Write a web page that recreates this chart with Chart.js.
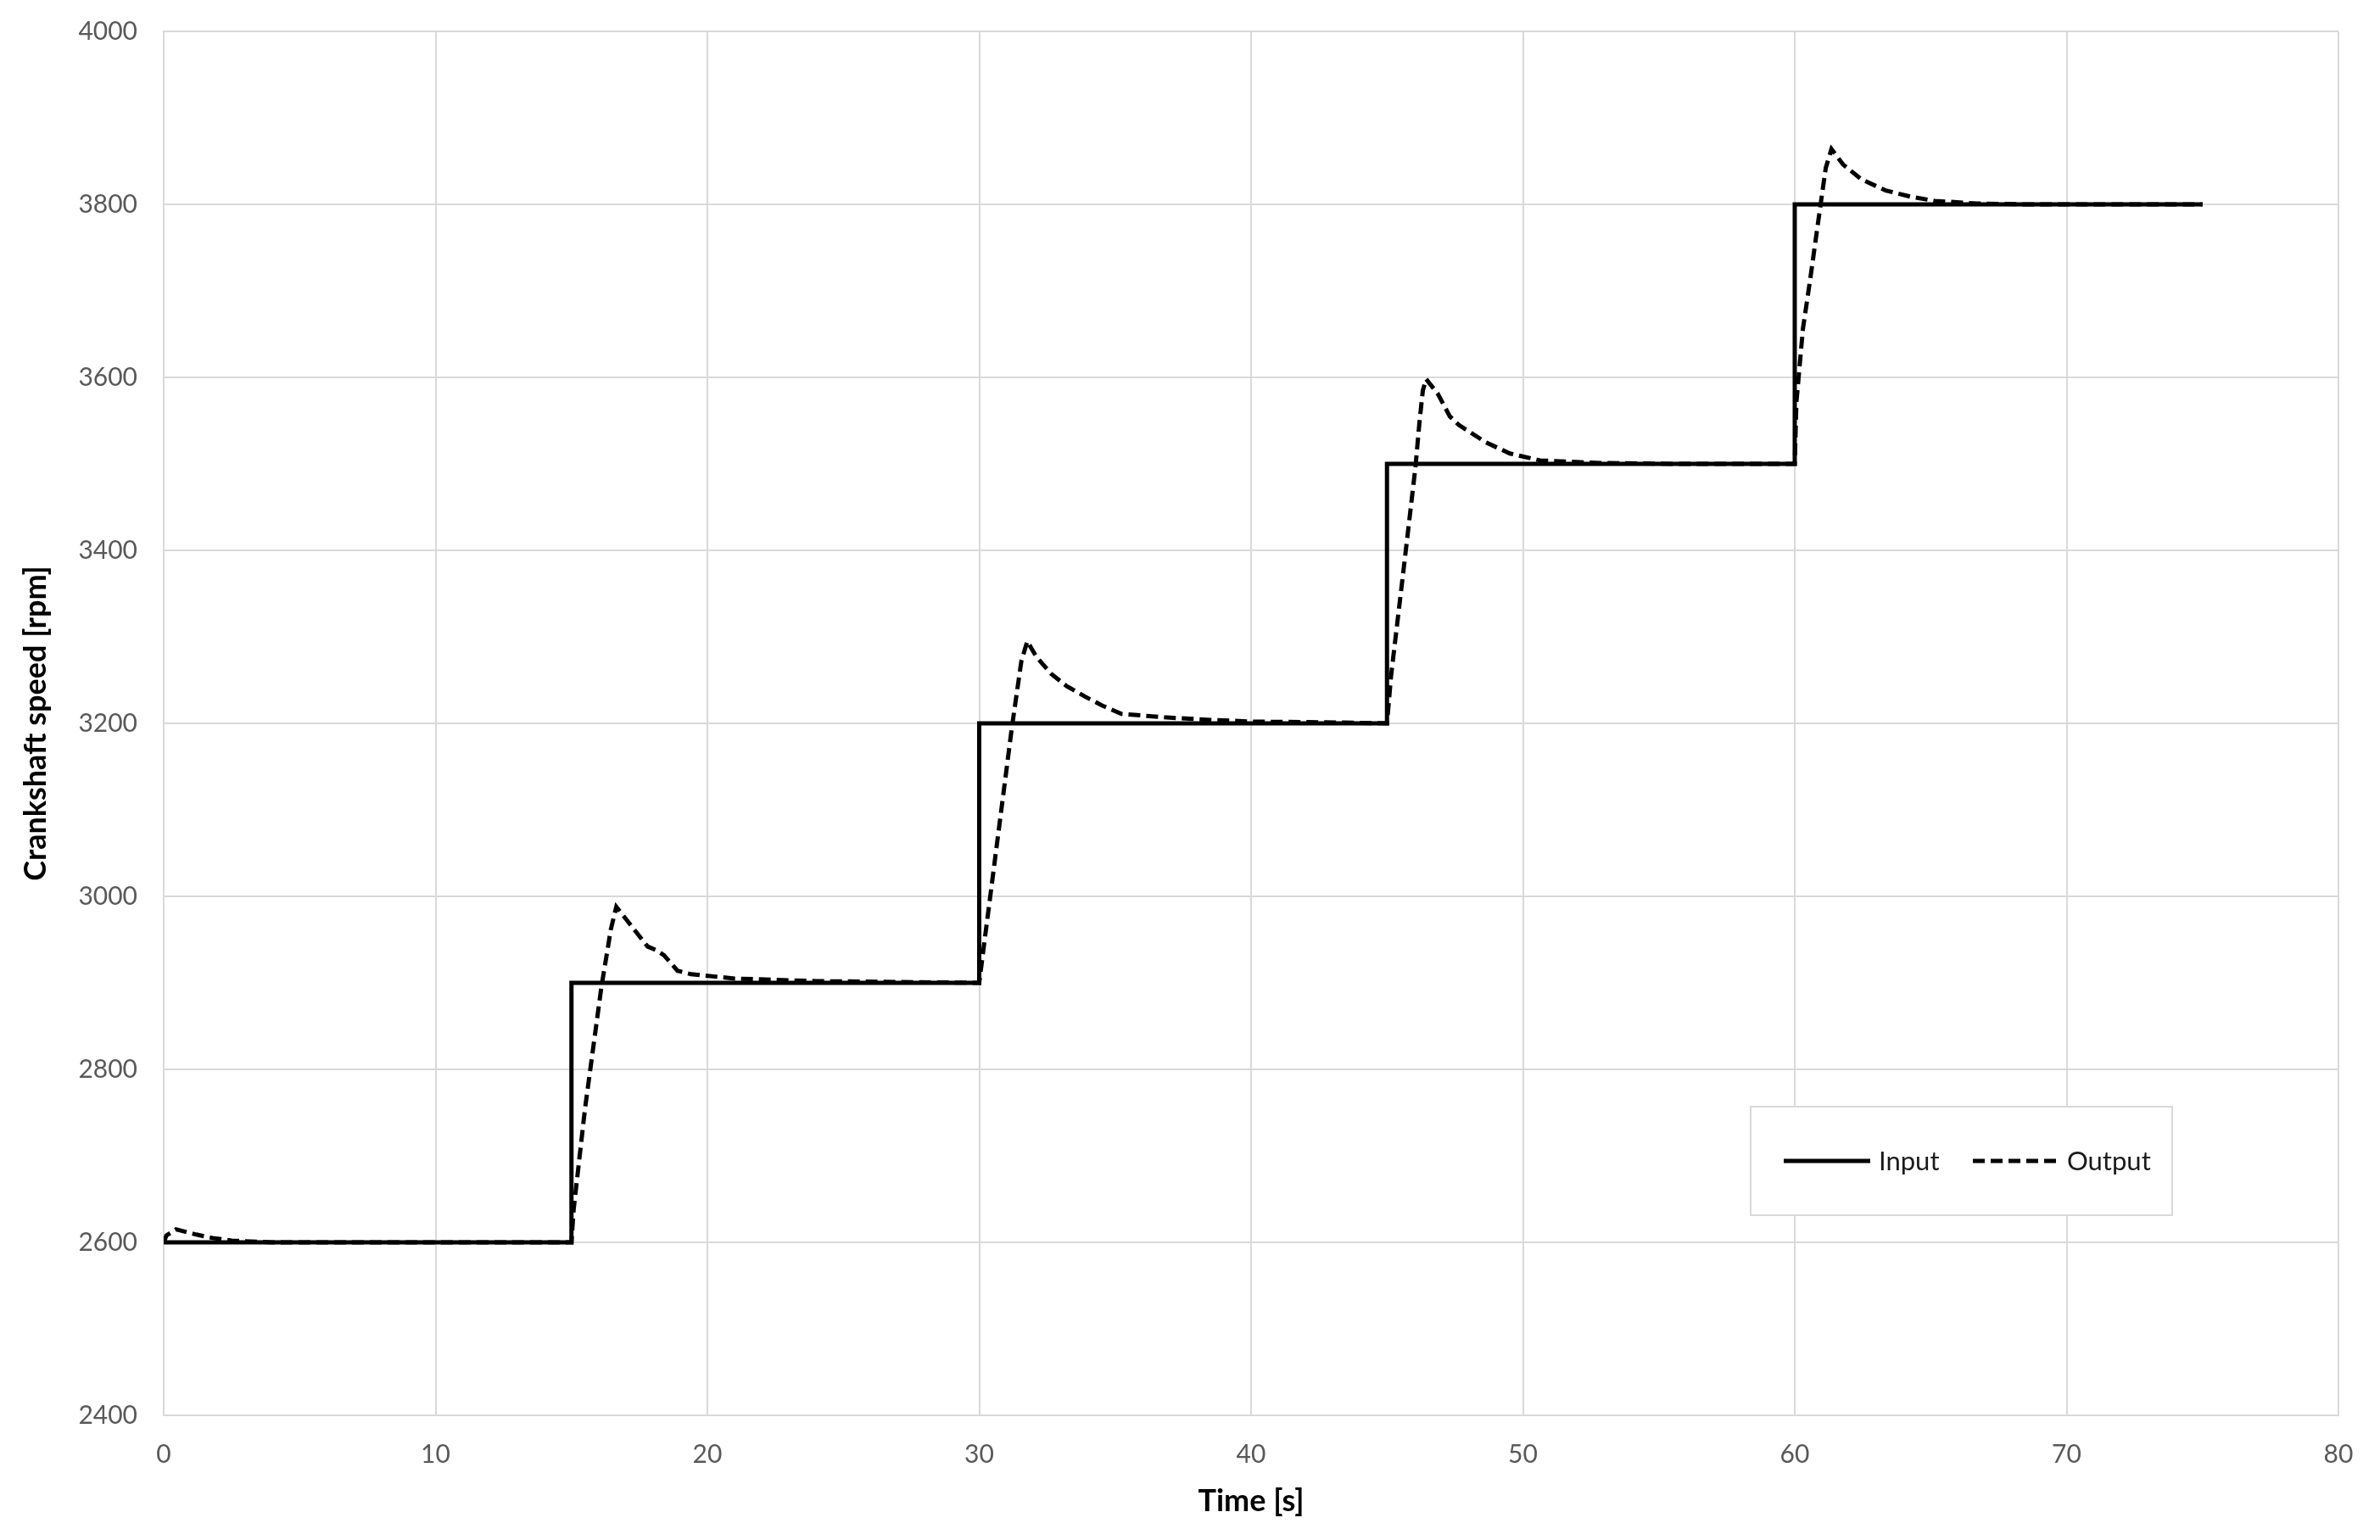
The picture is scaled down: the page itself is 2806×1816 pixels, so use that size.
<!DOCTYPE html>
<html>
<head>
<meta charset="utf-8">
<script src="https://cdn.jsdelivr.net/npm/chart.js@4.4.1/dist/chart.umd.min.js"></script>
<style>
  html, body { margin: 0; padding: 0; background: #ffffff; }
  canvas { display: block; background: #ffffff; }
</style>
</head>
<body>
<canvas id="c" width="2806" height="1816"></canvas>
<script>
// ---- Data ----
const inputTime  = [0, 15, 15, 30, 30, 45, 45, 60, 60, 75];
const inputSpeed = [2600, 2600, 2900, 2900, 3200, 3200, 3500, 3500, 3800, 3800];

const outputTime = [
  0, 0.1, 0.45, 1.2, 1.8, 2.5, 3.2, 4.0, 15.0,
  15.08, 15.5, 16.1, 16.45, 16.65, 17.8, 18.1, 18.4, 18.9, 19.4, 21.0, 24.0, 27.0, 30.0,
  30.12, 31.2, 31.55, 31.77, 32.1, 32.66, 33.22, 33.89, 34.56, 35.23, 36.8, 38.5, 40.1, 43.3, 45.0,
  45.15, 45.6, 46.05, 46.2, 46.32, 46.44, 46.87, 47.31, 47.64, 48.63, 49.52, 50.63, 52.85, 55.4, 60.0,
  60.06, 60.3, 60.58, 60.92, 61.14, 61.35, 61.78, 62.45, 63.35, 64.25, 65.15, 66.7, 68.6, 75.0
];
const outputSpeed = [
  2600, 2608, 2615, 2609, 2605, 2602, 2601, 2600, 2600,
  2638, 2755, 2895, 2962, 2988, 2942, 2938, 2932, 2914, 2910, 2905, 2902, 2901, 2900,
  2930, 3195, 3272, 3295, 3277, 3257, 3243, 3231, 3220, 3211, 3207, 3204, 3202, 3201, 3200,
  3255, 3375, 3497, 3550, 3585, 3598, 3581, 3555, 3545, 3525, 3512, 3504, 3501, 3500, 3500,
  3571, 3656, 3716, 3793, 3842, 3864, 3846, 3829, 3816, 3809, 3804, 3801, 3800, 3800
];

const seriesNames = ['Input', 'Output'];
const xTitle = 'Time [s]';
const yTitle = 'Crankshaft speed [rpm]';
const xMin = 0, xMax = 80, xStep = 10;
const yMin = 2400, yMax = 4000, yStep = 200;

function toPoints(xs, ys) { return xs.map((x, i) => ({ x: x, y: ys[i] })); }

const FONT = 'Lato, "Open Sans", "Liberation Sans", sans-serif';
const GRID = '#d9d9d9';
const TICKC = '#595959';

// Legend drawn inside plot area (like the reference)
const insideLegend = {
  id: 'insideLegend',
  afterDraw(chart) {
    const ctx = chart.ctx;
    const bx = 2064, by = 1305, bw = 497, bh = 128;
    ctx.save();
    ctx.fillStyle = '#ffffff';
    ctx.fillRect(bx, by, bw, bh);
    ctx.strokeStyle = GRID;
    ctx.lineWidth = 2;
    ctx.strokeRect(bx, by, bw, bh);
    const cy = by + bh / 2;
    const items = [
      { x0: 2103, x1: 2205, tx: 2215, ds: chart.data.datasets[0] },
      { x0: 2326, x1: 2428, tx: 2437, ds: chart.data.datasets[1] }
    ];
    items.forEach(it => {
      ctx.beginPath();
      ctx.setLineDash(it.ds.borderDash || []);
      ctx.lineWidth = it.ds.borderWidth;
      ctx.strokeStyle = it.ds.borderColor;
      ctx.lineCap = 'butt';
      ctx.moveTo(it.x0, cy);
      ctx.lineTo(it.x1, cy);
      ctx.stroke();
      ctx.setLineDash([]);
      ctx.fillStyle = '#1a1a1a';
      ctx.font = '31px ' + FONT;
      ctx.textAlign = 'left';
      ctx.textBaseline = 'middle';
      ctx.fillText(it.ds.label, it.tx, cy + 1);
    });
    ctx.restore();
  }
};

new Chart(document.getElementById('c'), {
  type: 'scatter',
  data: {
    datasets: [
      {
        label: seriesNames[0],
        data: toPoints(inputTime, inputSpeed),
        showLine: true,
        borderColor: '#000000',
        backgroundColor: '#000000',
        borderWidth: 5,
        pointRadius: 0,
        tension: 0,
        order: 2
      },
      {
        label: seriesNames[1],
        data: toPoints(outputTime, outputSpeed),
        showLine: true,
        borderColor: '#000000',
        backgroundColor: '#000000',
        borderWidth: 5,
        borderDash: [14, 7],
        pointRadius: 0,
        tension: 0,
        order: 1
      }
    ]
  },
  options: {
    responsive: false,
    animation: false,
    devicePixelRatio: 1,
    layout: { padding: { top: 37, right: 49, left: 0, bottom: 0 } },
    plugins: {
      legend: { display: false },
      tooltip: { enabled: false }
    },
    scales: {
      x: {
        type: 'linear',
        min: xMin, max: xMax,
        afterFit(scale) { scale.height = 147; },
        ticks: {
          stepSize: xStep,
          color: TICKC,
          font: { family: FONT, size: 30 },
          padding: 28,
          maxRotation: 0,
          callback: (v) => String(v)
        },
        grid: { color: GRID, lineWidth: 2, drawTicks: false },
        border: { display: true, color: GRID, width: 2 },
        title: {
          display: true,
          text: xTitle,
          color: '#000000',
          font: { family: FONT, size: 36, weight: 'bold' },
          padding: { top: 0, bottom: 24 }
        }
      },
      y: {
        type: 'linear',
        min: yMin, max: yMax,
        afterFit(scale) {
          scale.width = 193;
          scale.paddingTop = 0;
          scale.paddingBottom = 0;
        },
        ticks: {
          stepSize: yStep,
          color: TICKC,
          font: { family: FONT, size: 30 },
          padding: 31,
          callback: (v) => String(v)
        },
        grid: { color: GRID, lineWidth: 2, drawTicks: false },
        border: { display: true, color: GRID, width: 2 },
        title: {
          display: true,
          text: yTitle,
          color: '#000000',
          font: { family: FONT, size: 36, weight: 'bold' },
          padding: { top: 21, bottom: 0 }
        }
      }
    }
  },
  plugins: [insideLegend]
});
</script>
</body>
</html>
